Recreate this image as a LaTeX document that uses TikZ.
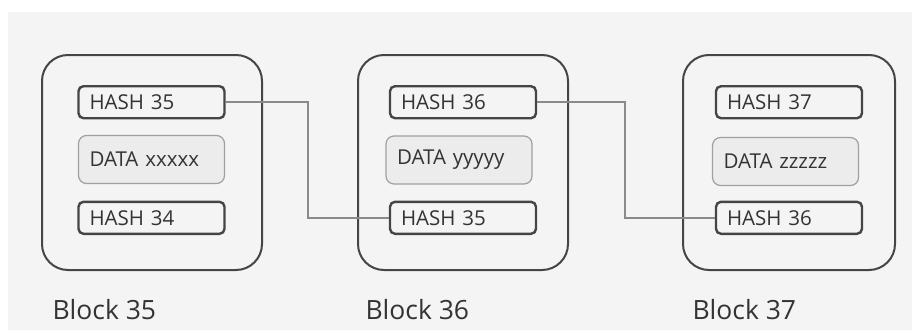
\documentclass[tikz,border=0pt]{standalone}
\usepackage{fontspec}
\setmainfont{Open Sans}
\usetikzlibrary{positioning}

\definecolor{bggray}{HTML}{F4F4F4}
\definecolor{edgegray}{HTML}{454545}
\definecolor{datagray}{HTML}{ECECEC}
\definecolor{datadraw}{HTML}{A0A0A0}
\definecolor{linkgray}{HTML}{8A8A8A}
\definecolor{txtgray}{HTML}{333333}

\begin{document}
\begin{tikzpicture}[
  x=1pt, y=-1pt,
  block/.style={rectangle, rounded corners=26pt, draw=edgegray, line width=2pt,
                minimum width=220pt, minimum height=215pt},
  hashbox/.style={rectangle, rounded corners=5pt, draw=edgegray, line width=2.4pt,
                  minimum width=146pt, minimum height=32pt, text width=124pt,
                  align=left, font=\fontsize{20.5}{24}\selectfont, text=txtgray},
  databox/.style={rectangle, rounded corners=8pt, draw=datadraw, fill=datagray,
                  line width=1.2pt, minimum width=146pt, minimum height=48pt,
                  text width=124pt, align=left,
                  font=\fontsize{20.5}{24}\selectfont, text=txtgray},
  blocklabel/.style={anchor=west, font=\fontsize{26.5}{30}\selectfont, text=txtgray},
  link/.style={draw=linkgray, line width=2pt},
]
\useasboundingbox (0,0) rectangle (912,332);
\fill[bggray] (8,12) rectangle (912,330);

% block 35
\node[block] (b35) at (152,162.5) {};
\node[databox] (d35) at (151.5,159.5) {DATA xxxxx};
\node[hashbox, above=15.5pt of d35] (h35top) {HASH 35};
\node[hashbox, below=16.5pt of d35] (h34bot) {HASH 34};
\node[blocklabel] (l35) at (49,310) {Block 35};

% block 36
\node[block, minimum width=210pt] (b36) at (463,162.5) {};
\node[databox] (d36) at (459,160) {DATA yyyyy};
\node[hashbox, above=16pt of d36.north -| b36.center] (h36top) {HASH 36};
\node[hashbox, below=16pt of d36.south -| b36.center] (h35bot) {HASH 35};
\node[blocklabel] (l36) at (362,310) {Block 36};

% block 37
\node[block, minimum width=212pt] (b37) at (789,162.5) {};
\node[databox] (d37) at (785.5,161.5) {DATA zzzzz};
\node[hashbox, above=17.5pt of d37.north -| b37.center] (h37top) {HASH 37};
\node[hashbox, below=14.5pt of d37.south -| b37.center] (h36bot) {HASH 36};
\node[blocklabel] (l37) at (689,310) {Block 37};

% hash links
\draw[link] (h35top.east) -- ++(82pt,0) |- (h35bot.west);
\draw[link] (h36top.east) -- ++(88pt,0) |- (h36bot.west);
\end{tikzpicture}
\end{document}
